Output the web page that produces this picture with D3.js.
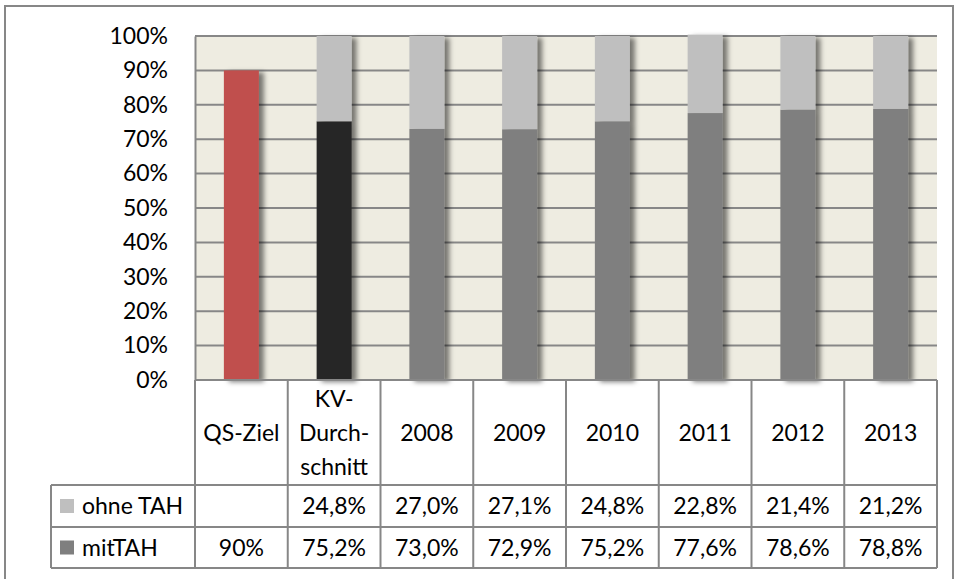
<!DOCTYPE html>
<html>
<head>
<meta charset="utf-8">
<script src="https://cdn.jsdelivr.net/npm/d3@7"></script>
<style>
  body { margin: 0; background: #fff; }
  text { font-family: Lato, "Open Sans", sans-serif; fill: #000; }
</style>
</head>
<body>
<div id="chart"></div>
<script>
// data
var categories = ["QS-Ziel", "KV-Durchschnitt", "2008", "2009", "2010", "2011", "2012", "2013"];
var headerLines = [["QS-Ziel"], ["KV-", "Durch-", "schnitt"], ["2008"], ["2009"], ["2010"], ["2011"], ["2012"], ["2013"]];
var mitTAH = [90, 75.2, 73.0, 72.9, 75.2, 77.6, 78.6, 78.8];
var ohneTAH = [null, 24.8, 27.0, 27.1, 24.8, 22.8, 21.4, 21.2];
var mitLabels = ["90%", "75,2%", "73,0%", "72,9%", "75,2%", "77,6%", "78,6%", "78,8%"];
var ohneLabels = ["", "24,8%", "27,0%", "27,1%", "24,8%", "22,8%", "21,4%", "21,2%"];
var seriesNames = ["ohne TAH", "mitTAH"];
var yTicks = [0, 10, 20, 30, 40, 50, 60, 70, 80, 90, 100];

// colours
var mitColors = ["#C0504D", "#262626", "#7F7F7F", "#7F7F7F", "#7F7F7F", "#7F7F7F", "#7F7F7F", "#7F7F7F"];
var ohneColor = "#BFBFBF";
var lineColor = "#878787";
var fontSize = "23px";

var W = 954, H = 579;
var plot = { left: 195, right: 937, top: 36, bottom: 380 };
var rowTop = [380, 485, 527, 568];
var legendLeft = 51;

var svg = d3.select("#chart").append("svg")
    .attr("width", W)
    .attr("height", H);

// shadow filter for bars
var defs = svg.append("defs");
var f = defs.append("filter").attr("id", "shadow")
    .attr("x", "-20%").attr("y", "-5%").attr("width", "160%").attr("height", "115%");
f.append("feDropShadow")
    .attr("dx", 5).attr("dy", 2)
    .attr("stdDeviation", 2.5)
    .attr("flood-color", "#000")
    .attr("flood-opacity", 0.5);

// outer frame
svg.append("rect")
    .attr("x", 5).attr("y", 6)
    .attr("width", 948).attr("height", 600)
    .attr("fill", "none")
    .attr("stroke", lineColor)
    .attr("stroke-width", 2);

var x = d3.scaleBand()
    .domain(categories)
    .range([plot.left, plot.right])
    .paddingInner(0)
    .paddingOuter(0);

var y = d3.scaleLinear()
    .domain([0, 100])
    .range([plot.bottom, plot.top]);

// plot background
svg.append("rect")
    .attr("x", plot.left).attr("y", plot.top)
    .attr("width", plot.right - plot.left)
    .attr("height", plot.bottom - plot.top)
    .attr("fill", "#EEECE1");

// gridlines
svg.append("g")
    .selectAll("line")
    .data(yTicks.filter(function (d) { return d > 0; }))
    .enter()
    .append("line")
    .attr("x1", plot.left).attr("x2", plot.right)
    .attr("y1", function (d) { return y(d); })
    .attr("y2", function (d) { return y(d); })
    .attr("stroke", lineColor)
    .attr("stroke-width", 2);

// y axis labels
var yAxis = svg.append("g")
    .attr("transform", "translate(" + plot.left + ",0)")
    .call(d3.axisLeft(y).tickValues(yTicks).tickSize(0).tickPadding(27)
        .tickFormat(function (d) { return d + "%"; }));
yAxis.select(".domain").attr("stroke", lineColor).attr("stroke-width", 2);
yAxis.selectAll("text")
    .style("font-family", "Lato, 'Open Sans', sans-serif")
    .style("font-size", fontSize)
    .attr("fill", "#000");

// bars
var barW = 35;
var bars = svg.append("g").selectAll("g")
    .data(categories)
    .enter()
    .append("g")
    .attr("filter", "url(#shadow)");

bars.append("rect")
    .attr("x", function (d) { return x(d) + x.bandwidth() / 2 - barW / 2; })
    .attr("width", barW)
    .attr("y", function (d, i) { return y(mitTAH[i]); })
    .attr("height", function (d, i) { return y(0) - y(mitTAH[i]); })
    .attr("fill", function (d, i) { return mitColors[i]; });

bars.filter(function (d, i) { return ohneTAH[i] != null; })
    .append("rect")
    .attr("x", function (d) { return x(d) + x.bandwidth() / 2 - barW / 2; })
    .attr("width", barW)
    .attr("y", function (d) { var i = categories.indexOf(d); return y(mitTAH[i] + ohneTAH[i]); })
    .attr("height", function (d) { var i = categories.indexOf(d); return y(mitTAH[i]) - y(mitTAH[i] + ohneTAH[i]); })
    .attr("fill", ohneColor);

// data table
var table = svg.append("g")
    .attr("stroke", lineColor)
    .attr("stroke-width", 2);

// vertical lines in table
var colEdges = categories.map(function (d) { return x(d); }).concat([plot.right]);
table.selectAll("line.v")
    .data(colEdges)
    .enter()
    .append("line")
    .attr("x1", function (d) { return d; })
    .attr("x2", function (d) { return d; })
    .attr("y1", rowTop[0])
    .attr("y2", rowTop[3]);
table.append("line")
    .attr("x1", legendLeft).attr("x2", legendLeft)
    .attr("y1", rowTop[1]).attr("y2", rowTop[3]);
// horizontal lines
table.append("line")
    .attr("x1", plot.left).attr("x2", plot.right)
    .attr("y1", rowTop[0]).attr("y2", rowTop[0]);
[rowTop[1], rowTop[2], rowTop[3]].forEach(function (yy) {
    table.append("line")
        .attr("x1", legendLeft).attr("x2", plot.right)
        .attr("y1", yy).attr("y2", yy);
});

// header labels
var header = svg.append("g").selectAll("text")
    .data(categories)
    .enter()
    .append("text")
    .attr("text-anchor", "middle")
    .style("font-size", fontSize)
    .attr("x", function (d) { return x(d) + x.bandwidth() / 2; });
header.each(function (d, i) {
    var lines = headerLines[i];
    var lh = 34;
    var mid = (rowTop[0] + rowTop[1]) / 2;
    var t = d3.select(this);
    lines.forEach(function (l, k) {
        t.append("tspan")
            .attr("x", x(d) + x.bandwidth() / 2)
            .attr("y", mid + (k - (lines.length - 1) / 2) * lh)
            .attr("dy", "0.35em")
            .text(l);
    });
});

// value rows
var rows = [ohneLabels, mitLabels];
rows.forEach(function (labels, r) {
    var cy = (rowTop[r + 1] + rowTop[r + 2]) / 2;
    svg.append("g").selectAll("text")
        .data(categories)
        .enter()
        .append("text")
        .attr("text-anchor", "middle")
        .style("font-size", fontSize)
        .attr("x", function (d) { return x(d) + x.bandwidth() / 2; })
        .attr("y", cy)
        .attr("dy", "0.35em")
        .text(function (d, i) { return labels[i]; });

    // legend key
    svg.append("rect")
        .attr("x", 60).attr("y", cy - 7)
        .attr("width", 14).attr("height", 14)
        .attr("fill", r === 0 ? ohneColor : "#7F7F7F");
    svg.append("text")
        .attr("x", 82).attr("y", cy)
        .attr("dy", "0.35em")
        .style("font-size", fontSize)
        .text(seriesNames[r]);
});
</script>
</body>
</html>
